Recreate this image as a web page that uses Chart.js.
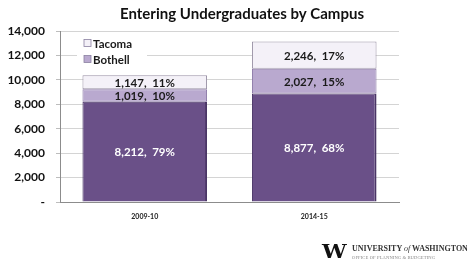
<!DOCTYPE html>
<html>
<head>
<meta charset="utf-8">
<script src="https://cdn.jsdelivr.net/npm/chart.js@4/dist/chart.umd.min.js"></script>
<style>
  html, body { margin: 0; padding: 0; background: #fff; }
  .wrap { position: relative; width: 467px; height: 267px; }
  #chart { position: absolute; left: 0; top: 0; }
  .logo-w { position: absolute; left: 322px; top: 243px; font: bold 22px "DejaVu Serif", serif; line-height: 20px; color: #111; letter-spacing: -3px; transform: scaleY(0.85); transform-origin: top left; }
  .logo-uw { position: absolute; left: 352px; top: 244px; font: bold 8px "Liberation Serif", serif; color: #333; white-space: nowrap; }
  .logo-uw i { font-weight: normal; }
  .logo-opb { position: absolute; left: 352px; top: 255px; font: 4.6px "Liberation Serif", serif; color: #888; white-space: nowrap; letter-spacing: 0.1px; }
</style>
</head>
<body>
<div class="wrap">
  <canvas id="chart" width="467" height="267"></canvas>
  <div class="logo-w">W</div>
  <div class="logo-uw">UNIVERSITY <i>of</i> WASHINGTON</div>
  <div class="logo-opb">OFFICE OF PLANNING &amp; BUDGETING</div>
</div>
<script>
const chartTitle = "Entering Undergraduates by Campus";
const years = ["2009-10", "2014-15"];
const seattle = [8212, 8877];
const bothell = [1019, 2027];
const tacoma = [1147, 2246];
const yTicks = [0, 2000, 4000, 6000, 8000, 10000, 12000, 14000];

const totals = years.map((y, i) => seattle[i] + bothell[i] + tacoma[i]);
const fmt = n => n.toLocaleString("en-US");

const FONT = "Lato, 'Open Sans', sans-serif";

// title is centred over the whole picture, not the plot
const topTitle = {
    id: "topTitle",
    afterDraw(chart) {
        const ctx = chart.ctx;
        ctx.save();
        ctx.font = "bold 15px " + FONT;
        ctx.fillStyle = "#111";
        ctx.textAlign = "center";
        ctx.textBaseline = "middle";
        ctx.fillText(chartTitle, 242, 14);
        ctx.restore();
    }
};

// data labels "value,  pct%" centred in each segment
const segLabels = {
    id: "segLabels",
    afterDatasetsDraw(chart) {
        const ctx = chart.ctx;
        ctx.save();
        ctx.textAlign = "center";
        ctx.textBaseline = "middle";
        ctx.font = "bold 11.5px " + FONT;
        chart.data.datasets.forEach((ds, di) => {
            const meta = chart.getDatasetMeta(di);
            meta.data.forEach((bar, i) => {
                const v = ds.data[i];
                const pct = Math.round(v / totals[i] * 100);
                const y = (bar.y + bar.base) / 2;
                ctx.fillStyle = di === 0 ? "#ffffff" : "#1a1a1a";
                ctx.fillText(fmt(v) + ",  " + pct + "%", bar.x, y + 1);
            });
        });
        ctx.restore();
    }
};

// legend sitting inside the plot, top-left
const innerLegend = {
    id: "innerLegend",
    afterDraw(chart) {
        const ctx = chart.ctx;
        const a = chart.chartArea;
        const x = a.left + 17, y = a.top + 5;
        ctx.save();
        ctx.fillStyle = "#ffffff";
        ctx.fillRect(x, y, 70, 32);
        ctx.font = "bold 11.5px " + FONT;
        ctx.textBaseline = "middle";
        const items = [chart.data.datasets[2], chart.data.datasets[1]];
        items.forEach((ds, k) => {
            const cy = y + 7 + k * 16;
            ctx.fillStyle = ds.backgroundColor;
            ctx.fillRect(x + 7, cy - 3.5, 7, 7);
            ctx.strokeStyle = "#8a80a0";
            ctx.lineWidth = 0.8;
            ctx.strokeRect(x + 7, cy - 3.5, 7, 7);
            ctx.fillStyle = "#1a1a1a";
            ctx.fillText(ds.label, x + 16, cy + 1);
        });
        ctx.restore();
    }
};

new Chart(document.getElementById("chart"), {
    type: "bar",
    data: {
        labels: years,
        datasets: [
            { label: "Seattle", data: seattle, backgroundColor: "#6a5088", borderColor: "#4a3566", borderWidth: { right: 2, left: 1, top: 1, bottom: 0 }, borderSkipped: false },
            { label: "Bothell", data: bothell, backgroundColor: "#b9a9cf", borderColor: "#8d7aa8", borderWidth: 1, borderSkipped: false },
            { label: "Tacoma", data: tacoma, backgroundColor: "#f4f1f8", borderColor: "#9a92a6", borderWidth: 1, borderSkipped: false }
        ]
    },
    options: {
        responsive: false,
        animation: false,
        layout: { padding: { left: 0, right: 68, top: 31, bottom: 0 } },
        datasets: { bar: { barPercentage: 0.735, categoryPercentage: 1.0 } },
        plugins: {
            legend: { display: false },
            tooltip: { enabled: false },
            title: { display: false }
        },
        scales: {
            x: {
                stacked: true,
                grid: { display: false, drawTicks: false },
                border: { color: "#8c8c8c" },
                ticks: { color: "#222", font: { family: FONT, size: 7, weight: "bold" }, padding: 11 },
                afterFit: s => { s.height = 65; }
            },
            y: {
                stacked: true,
                min: 0,
                max: 14000,
                afterBuildTicks: s => { s.ticks = yTicks.map(v => ({ value: v })); },
                grid: { color: "#d4d4d4", tickLength: 4, tickColor: "#bdbdbd" },
                border: { color: "#8c8c8c" },
                ticks: {
                    color: "#111",
                    font: { family: FONT, size: 12, weight: "bold" },
                    padding: 11,
                    callback: v => v === 0 ? "-" : fmt(v)
                },
                afterFit: s => { s.width = 60; }
            }
        }
    },
    plugins: [topTitle, segLabels, innerLegend]
});
</script>
</body>
</html>
